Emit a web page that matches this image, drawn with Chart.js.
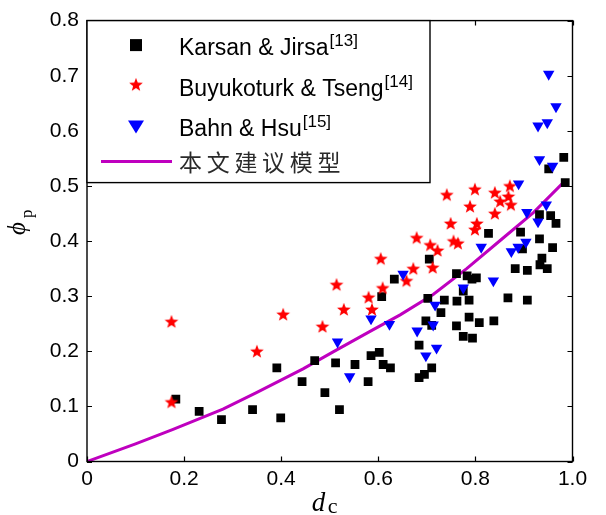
<!DOCTYPE html>
<html lang="zh-CN">
<head>
<meta charset="UTF-8">
<title>dc - phi_p</title>
<script src="https://cdn.jsdelivr.net/npm/chart.js@4.4.1/dist/chart.umd.min.js"></script>
<style>
  html, body { margin: 0; padding: 0; background: #fff; }
  #wrap { width: 606px; height: 515px; }
</style>
</head>
<body>
<div id="wrap"><canvas id="chart" width="606" height="515"></canvas></div>
<script>
// test data: Karsan & Jirsa [13]
const kjX = [0.183,0.231,0.277,0.341,0.399,0.391,0.443,0.469,0.490,0.512,0.520,0.552,0.579,0.585,0.602,0.610,0.625,0.607,0.633,0.705,
             0.702,0.698,0.710,0.684,0.710,0.695,0.684,0.729,0.736,0.762,0.787,0.761,0.787,0.808,0.838,0.775,0.794,0.775,0.761,0.783,
             0.793,0.802,0.827,0.893,0.867,0.907,0.882,0.907,0.897,0.932,0.959,0.937,0.933,0.948,0.932,0.955,0.966,0.982,0.951,0.985];
const kjY = [0.113,0.091,0.076,0.094,0.079,0.170,0.145,0.183,0.125,0.179,0.094,0.176,0.145,0.192,0.198,0.176,0.170,0.299,0.331,0.367,
             0.296,0.255,0.247,0.211,0.170,0.158,0.152,0.270,0.293,0.291,0.293,0.246,0.262,0.252,0.255,0.227,0.224,0.309,0.341,0.337,
             0.331,0.333,0.414,0.416,0.297,0.293,0.350,0.347,0.386,0.404,0.388,0.369,0.357,0.350,0.448,0.446,0.432,0.552,0.531,0.506];

// Buyukoturk & Tseng [14]
const btX = [0.174,0.174,0.350,0.404,0.485,0.514,0.529,0.580,0.587,0.609,0.605,0.658,0.672,0.679,0.707,0.722,
             0.712,0.755,0.764,0.749,0.803,0.799,0.741,0.789,0.799,0.840,0.840,0.851,0.868,0.871,0.873];
const btY = [0.253,0.107,0.199,0.266,0.244,0.320,0.275,0.297,0.275,0.314,0.367,0.327,0.349,0.405,0.392,0.382,
             0.351,0.399,0.395,0.431,0.431,0.420,0.483,0.462,0.493,0.487,0.449,0.471,0.480,0.499,0.465];

// Bahn & Hsu [15]
const bhX = [0.516,0.541,0.585,0.623,0.651,0.680,0.698,0.720,0.717,0.713,0.775,0.837,0.812,
             0.874,0.888,0.904,0.906,0.929,0.946,0.889,0.932,0.959,0.929,0.948,0.966,0.951];
const bhY = [0.217,0.154,0.259,0.249,0.340,0.237,0.192,0.206,0.284,0.248,0.315,0.328,0.389,
             0.381,0.389,0.398,0.452,0.435,0.466,0.504,0.548,0.536,0.609,0.615,0.644,0.703];

// proposed model curve
const modelX = [0, 0.1, 0.176, 0.28, 0.349, 0.445, 0.507, 0.583, 0.645, 0.713, 0.782, 0.851, 0.92, 0.982];
const modelY = [0, 0.032, 0.058, 0.095, 0.125, 0.168, 0.199, 0.236, 0.266, 0.303, 0.350, 0.401, 0.452, 0.507];

const xTicks = [0, 0.2, 0.4, 0.6, 0.8, 1.0];
const xTickLabels = ['0', '0.2', '0.4', '0.6', '0.8', '1.0'];
const yTicks = [0, 0.1, 0.2, 0.3, 0.4, 0.5, 0.6, 0.7, 0.8];
const yTickLabels = ['0', '0.1', '0.2', '0.3', '0.4', '0.5', '0.6', '0.7', '0.8'];

const legendNames = ['Karsan & Jirsa', 'Buyukoturk & Tseng', 'Bahn & Hsu', '本文建议模型'];
const legendRefs = ['[13]', '[14]', '[15]', ''];

const pts = (xs, ys) => xs.map((x, i) => ({ x: x, y: ys[i] }));

// filled five-point star as a point image
function makeStar(outer, color) {
  const s = 2 * Math.ceil(outer + 1);
  const c = document.createElement('canvas');
  c.width = s; c.height = s;
  const g = c.getContext('2d');
  g.translate(s / 2, s / 2);
  g.beginPath();
  for (let i = 0; i < 10; i++) {
    const r = i % 2 ? outer * 0.42 : outer;
    const a = -Math.PI / 2 + i * Math.PI / 5;
    g.lineTo(r * Math.cos(a), r * Math.sin(a));
  }
  g.closePath();
  g.fillStyle = color;
  g.fill();
  return c;
}
const starImg = makeStar(7.2, '#ff0000');

const serif = '"Liberation Serif", "DejaVu Serif", serif';
const sans = '"Liberation Sans", Arial, sans-serif';

// frame, inward ticks, legend box and axis titles
const decorations = {
  id: 'decorations',
  afterDraw(chart) {
    const ctx = chart.ctx;
    const a = chart.chartArea;
    const sx = chart.scales.x, sy = chart.scales.y;
    ctx.save();
    ctx.strokeStyle = '#000';
    ctx.lineWidth = 1.4;
    ctx.strokeRect(a.left, a.top, a.right - a.left, a.bottom - a.top);
    ctx.lineWidth = 1.2;
    ctx.beginPath();
    xTicks.forEach(v => {
      const px = Math.round(sx.getPixelForValue(v)) + 0.5;
      ctx.moveTo(px, a.bottom); ctx.lineTo(px, a.bottom - 5);
      ctx.moveTo(px, a.top); ctx.lineTo(px, a.top + 5);
    });
    yTicks.forEach(v => {
      const py = Math.round(sy.getPixelForValue(v)) + 0.5;
      ctx.moveTo(a.left, py); ctx.lineTo(a.left + 5, py);
      ctx.moveTo(a.right, py); ctx.lineTo(a.right - 5, py);
    });
    ctx.stroke();

    // legend
    const bx = a.left, by = a.top, bw = 343, bh = 162;
    ctx.fillStyle = '#fff';
    ctx.fillRect(bx, by, bw, bh);
    ctx.lineWidth = 1.4;
    ctx.strokeRect(bx, by, bw, bh);

    const mx = bx + 49;
    const tx = bx + 92;
    // square
    ctx.fillStyle = '#000';
    ctx.fillRect(mx - 6, by + 24.5 - 6, 12, 12);
    // star
    ctx.drawImage(starImg, mx - starImg.width / 2, by + 64.5 - starImg.height / 2);
    // triangle
    ctx.fillStyle = '#0000ff';
    ctx.beginPath();
    ctx.moveTo(mx - 8, by + 100);
    ctx.lineTo(mx + 8, by + 100);
    ctx.lineTo(mx, by + 113);
    ctx.closePath();
    ctx.fill();
    // model line
    ctx.strokeStyle = '#bf00bf';
    ctx.lineWidth = 3;
    ctx.beginPath();
    ctx.moveTo(bx + 14, by + 141);
    ctx.lineTo(bx + 85, by + 141);
    ctx.stroke();

    const base = [by + 34.5, by + 75.5, by + 115.5];
    ctx.fillStyle = '#000';
    ctx.textBaseline = 'alphabetic';
    ctx.textAlign = 'left';
    for (let i = 0; i < 3; i++) {
      ctx.font = '23px ' + sans;
      ctx.fillText(legendNames[i], tx, base[i]);
      const w = ctx.measureText(legendNames[i]).width;
      ctx.font = '17px ' + sans;
      ctx.fillText(legendRefs[i], tx + w + 1, base[i] - 9);
    }
    ctx.font = '23px "Noto Sans CJK SC", sans-serif';
    ctx.fillStyle = '#2a2a2a';
    ctx.textBaseline = 'middle';
    Array.from(legendNames[3]).forEach((ch, k) => {
      ctx.fillText(ch, tx + k * 27.7, by + 142);
    });

    // axis titles
    ctx.fillStyle = '#000';
    ctx.textBaseline = 'alphabetic';
    const cx = (a.left + a.right) / 2;
    ctx.font = 'italic 27px ' + serif;
    ctx.fillText('d', cx - 18, 511);
    ctx.font = '22px ' + serif;
    ctx.fillText('c', cx - 2, 513);

    ctx.translate(25, 235);
    ctx.rotate(-Math.PI / 2);
    ctx.font = 'italic 25px ' + serif;
    ctx.fillText('ϕ', 0, 0);
    ctx.font = '17px ' + serif;
    ctx.fillText('p', 17, 7);
    ctx.restore();
  }
};

const ctx = document.getElementById('chart').getContext('2d');

const myChart = new Chart(ctx, {
  type: 'scatter',
  data: {
    datasets: [
      {
        label: legendNames[0],
        data: pts(kjX, kjY),
        pointStyle: 'rect',
        pointRadius: 6.2,
        backgroundColor: '#000',
        borderWidth: 0,
        order: 3
      },
      {
        label: legendNames[1],
        data: pts(btX, btY),
        pointStyle: starImg,
        order: 2
      },
      {
        label: legendNames[2],
        data: pts(bhX, bhY),
        pointStyle: 'triangle',
        rotation: 180,
        pointRadius: 6.6,
        backgroundColor: '#0000ff',
        borderWidth: 0,
        order: 1
      },
      {
        label: legendNames[3],
        data: pts(modelX, modelY),
        showLine: true,
        pointRadius: 0,
        borderColor: '#bf00bf',
        borderWidth: 3,
        tension: 0,
        order: 4
      }
    ]
  },
  options: {
    responsive: false,
    animation: false,
    events: [],
    layout: { padding: { top: 16, right: 33.5, left: 0, bottom: 0 } },
    plugins: {
      legend: { display: false },
      tooltip: { enabled: false }
    },
    scales: {
      x: {
        type: 'linear',
        min: 0,
        max: 1,
        afterBuildTicks: s => { s.ticks = xTicks.map(v => ({ value: v })); },
        afterFit: s => { s.height = 53.5; },
        ticks: {
          callback: (v, i) => xTickLabels[i],
          color: '#000',
          padding: 5,
          maxRotation: 0,
          font: { family: sans, size: 21 }
        },
        grid: { display: false, drawTicks: false },
        border: { display: false }
      },
      y: {
        type: 'linear',
        min: 0,
        max: 0.8,
        afterBuildTicks: s => { s.ticks = yTicks.map(v => ({ value: v })); },
        afterFit: s => { s.width = 87; },
        ticks: {
          callback: (v, i) => yTickLabels[i],
          color: '#000',
          padding: 8,
          font: { family: sans, size: 21 }
        },
        grid: { display: false, drawTicks: false },
        border: { display: false }
      }
    }
  },
  plugins: [decorations]
});
</script>
</body>
</html>
